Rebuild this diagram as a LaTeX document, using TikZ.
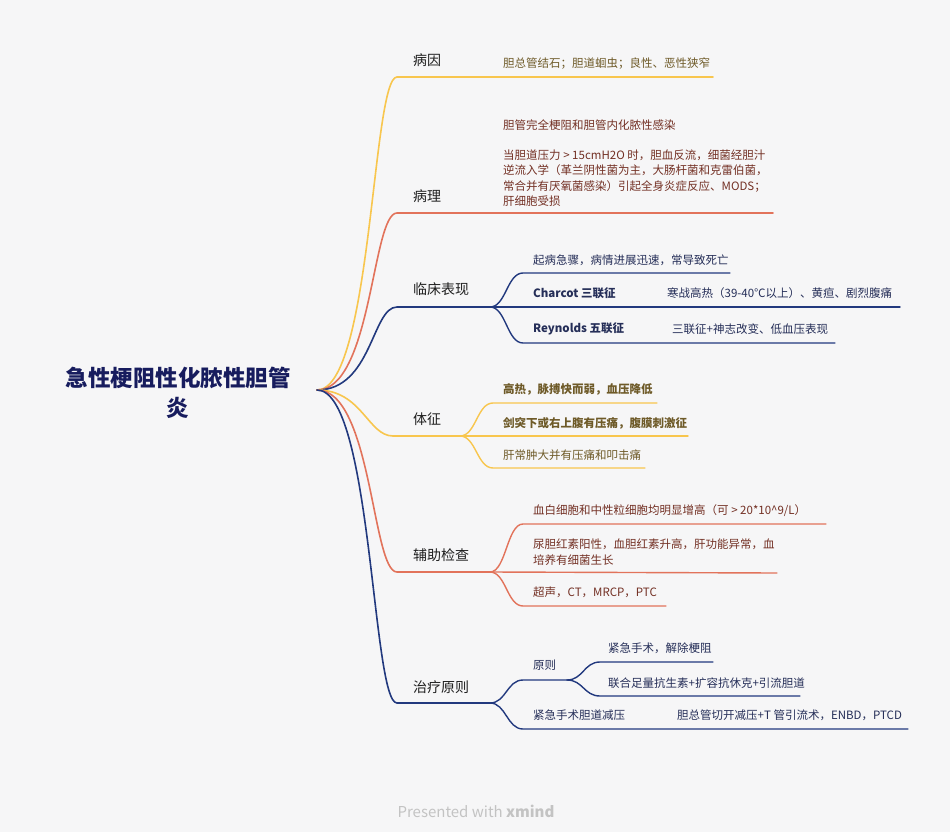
\documentclass[tikz,border=0pt]{standalone}
\usepackage{fontspec}
\setmainfont{Noto Sans CJK SC}
\definecolor{bgc}{HTML}{F6F6F7}
\definecolor{ylwc}{HTML}{F8C64E}
\definecolor{orgc}{HTML}{E2735B}
\definecolor{bluc}{HTML}{22397E}
\definecolor{rootc}{HTML}{171C5E}
\definecolor{topicc}{HTML}{1E1E1E}
\definecolor{ylwtxt}{HTML}{6E5A28}
\definecolor{orgtxt}{HTML}{733024}
\definecolor{blutxt}{HTML}{252E58}
\definecolor{footc}{HTML}{C3C3C3}
\begin{document}
\begin{tikzpicture}[x=1pt,y=-1pt,line cap=round,line join=round,
    topic/.style={anchor=west,inner sep=0pt,text=topicc,font=\fontsize{14}{16}\selectfont},
    leaf/.style={anchor=west,inner sep=0pt,align=left,font=\fontsize{11.5}{15.5}\selectfont},
    ylw/.style={draw=ylwc,line width=1.6pt},
    org/.style={draw=orgc,line width=1.6pt},
    blu/.style={draw=bluc,line width=1.6pt},
    thin/.style={line width=1.4pt}]
  \fill[bgc] (0,0) rectangle (950,832);
  \useasboundingbox (0,0) rectangle (950,832);
  % central topic
  \node[align=center,text=rootc,font=\fontsize{22.5}{30}\selectfont\bfseries] (root) at (178,393) {急性梗阻性化脓性胆管\\炎};
  \coordinate (o) at (317,390);
  % main branches
  \coordinate (b1) at (397,77);  \coordinate (e1) at (713,77);
  \coordinate (b2) at (397,213); \coordinate (e2) at (773,213);
  \coordinate (b3) at (397,307); \coordinate (j3) at (490,307);
  \coordinate (b4) at (393,436); \coordinate (j4) at (460,436);
  \coordinate (b5) at (397,572); \coordinate (j5) at (490,572);
  \coordinate (b6) at (397,703); \coordinate (j6) at (490,703);
  \draw[ylw] (o) .. controls +(55,0) and +(-25,0) .. (b1) -- (e1);
  \draw[org] (o) .. controls +(55,0) and +(-25,0) .. (b2) -- (e2);
  \draw[blu] (o) .. controls +(55,0) and +(-25,0) .. (b3) -- (j3);
  \draw[ylw] (o) .. controls +(45,0) and +(-25,0) .. (b4) -- (j4);
  \draw[org] (o) .. controls +(55,0) and +(-25,0) .. (b5) -- (j5);
  \draw[blu] (o) .. controls +(55,0) and +(-25,0) .. (b6) -- (j6);
  \node[topic] (yin) at (413,60) {病因};
  \node[topic] (bingli) at (413,196) {病理};
  \node[topic] (linchuang) at (413,289) {临床表现};
  \node[topic] (tizheng) at (413,419) {体征};
  \node[topic] (fuzhu) at (413,555) {辅助检查};
  \node[topic] (zhiliao) at (413,687) {治疗原则};
  % 病因 / 病理
  \node[leaf,text=ylwtxt] (yin1) at (503,64) {胆总管结石；胆道蛔虫；良性、恶性狭窄};
  \node[leaf,text=orgtxt] (li1) at (503,125) {胆管完全梗阻和胆管内化脓性感染};
  \node[leaf,text=orgtxt] (li2) at (503,178) {当胆道压力 > 15cmH2O 时，胆血反流，细菌经胆汁\\逆流入学（革兰阴性菌为主，大肠杆菌和克雷伯菌，\\常合并有厌氧菌感染）引起全身炎症反应、MODS；\\肝细胞受损};
  % 临床表现
  \coordinate (s31) at (523,273); \coordinate (e31) at (730,273);
  \coordinate (e32) at (900,307);
  \coordinate (s33) at (523,343); \coordinate (e33) at (835,343);
  \draw[blu,thin] (j3) .. controls +(16,0) and +(-16,0) .. (s31) -- (e31);
  \draw[blu,thin] (j3) -- (e32);
  \draw[blu,thin] (j3) .. controls +(16,0) and +(-16,0) .. (s33) -- (e33);
  \node[leaf,text=blutxt] (lc1) at (533,260) {起病急骤，病情进展迅速，常导致死亡};
  \node[leaf,text=blutxt,font=\fontsize{11.5}{15.5}\selectfont\bfseries] (lc2) at (533,293) {Charcot 三联征};
  \node[leaf,text=blutxt] (lc2a) at (667,293) {寒战高热（39-40℃以上）、黄疸、剧烈腹痛};
  \node[leaf,text=blutxt,font=\fontsize{11.5}{15.5}\selectfont\bfseries] (lc3) at (533,329) {Reynolds 五联征};
  \node[leaf,text=blutxt] (lc3a) at (672,329) {三联征+神志改变、低血压表现};
  % 体征
  \coordinate (s41) at (493,403); \coordinate (e41) at (657,403);
  \coordinate (e42) at (688,436);
  \coordinate (s43) at (493,468); \coordinate (e43) at (645,468);
  \draw[ylw,thin] (j4) .. controls +(16,0) and +(-16,0) .. (s41) -- (e41);
  \draw[ylw,thin] (j4) -- (e42);
  \draw[ylw,thin] (j4) .. controls +(16,0) and +(-16,0) .. (s43) -- (e43);
  \node[leaf,text=ylwtxt,font=\fontsize{11.5}{15.5}\selectfont\bfseries] (tz1) at (503,389) {高热，脉搏快而弱，血压降低};
  \node[leaf,text=ylwtxt,font=\fontsize{11.5}{15.5}\selectfont\bfseries] (tz2) at (503,423) {剑突下或右上腹有压痛，腹膜刺激征};
  \node[leaf,text=ylwtxt] (tz3) at (503,455) {肝常肿大并有压痛和叩击痛};
  % 辅助检查
  \coordinate (s51) at (523,524); \coordinate (e51) at (826,524);
  \coordinate (e52) at (777,573);
  \coordinate (s53) at (523,606); \coordinate (e53) at (666,606);
  \draw[org,thin] (j5) .. controls +(16,0) and +(-16,0) .. (s51) -- (e51);
  \draw[org,thin] (j5) -- (e52);
  \draw[org,thin] (j5) .. controls +(16,0) and +(-16,0) .. (s53) -- (e53);
  \node[leaf,text=orgtxt] (fz1) at (533,511) {血白细胞和中性粒细胞均明显增高（可 > 20*10\^{}9/L）};
  \node[leaf,text=orgtxt] (fz2) at (533,552) {尿胆红素阳性，血胆红素升高，肝功能异常，血\\培养有细菌生长};
  \node[leaf,text=orgtxt] (fz3) at (533,592) {超声，CT，MRCP，PTC};
  % 治疗原则
  \coordinate (s61) at (523,680); \coordinate (j61) at (567,680);
  \coordinate (s611) at (600,662); \coordinate (e611) at (713,662);
  \coordinate (s612) at (600,696); \coordinate (e612) at (800,696);
  \coordinate (s62) at (523,729); \coordinate (e62) at (908,729);
  \draw[blu,thin] (j6) .. controls +(16,0) and +(-16,0) .. (s61) -- (j61);
  \draw[blu,thin] (j61) .. controls +(16,0) and +(-16,0) .. (s611) -- (e611);
  \draw[blu,thin] (j61) .. controls +(16,0) and +(-16,0) .. (s612) -- (e612);
  \draw[blu,thin] (j6) .. controls +(16,0) and +(-16,0) .. (s62) -- (e62);
  \node[leaf,text=blutxt] (zl1) at (533,665) {原则};
  \node[leaf,text=blutxt] (zl11) at (608,648) {紧急手术，解除梗阻};
  \node[leaf,text=blutxt] (zl12) at (608,683) {联合足量抗生素+扩容抗休克+引流胆道};
  \node[leaf,text=blutxt] (zl2) at (533,715) {紧急手术胆道减压};
  \node[leaf,text=blutxt] (zl2a) at (677,715) {胆总管切开减压+T 管引流术，ENBD，PTCD};
  % footer
  \node[text=footc,font=\fontsize{15}{17}\selectfont] (foot) at (476,811) {Presented with \textbf{xmind}};
\end{tikzpicture}
\end{document}
